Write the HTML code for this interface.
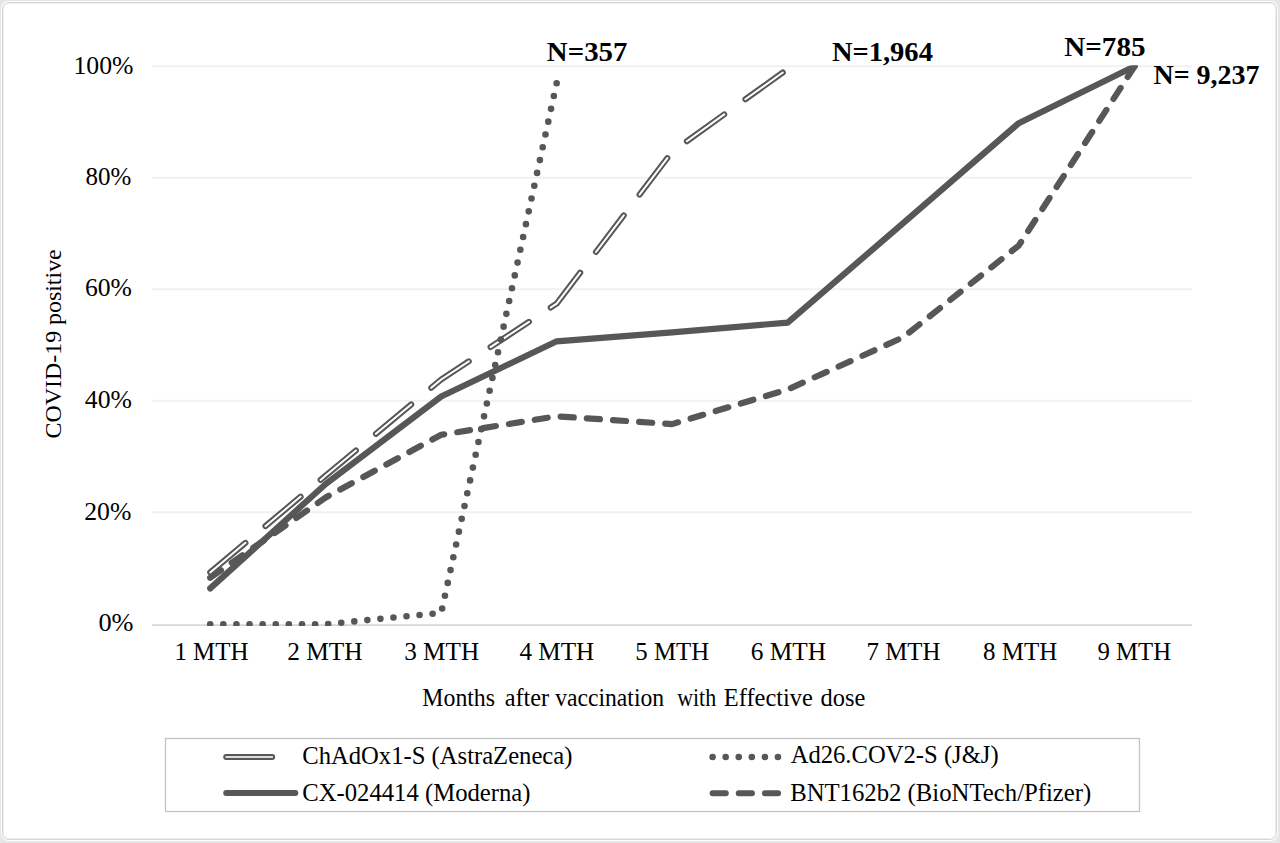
<!DOCTYPE html>
<html><head><meta charset="utf-8"><title>COVID-19 positive by months after vaccination</title>
<style>html,body{margin:0;padding:0;background:#fff;overflow:hidden}svg{display:block}</style>
</head><body>
<svg width="1280" height="843" viewBox="0 0 1280 843" font-family="Liberation Serif, Times New Roman, serif">
<defs><clipPath id="pa"><rect x="150" y="65.6" width="1045" height="560.4"/></clipPath></defs>
<rect x="0" y="0" width="1280" height="843" fill="#e6e6e6"/>
<rect x="1" y="1" width="1277" height="840" rx="7.5" fill="#ffffff"/>
<rect x="2.5" y="2.5" width="1274" height="837" rx="6" fill="none" stroke="#d6d6d6" stroke-width="1"/>
<rect x="3.5" y="3.5" width="1272" height="835" rx="5" fill="none" stroke="#ececec" stroke-width="1"/>
<line x1="152" y1="66.30" x2="1192" y2="66.30" stroke="#f1f1f1" stroke-width="2"/>
<line x1="152" y1="177.77" x2="1192" y2="177.77" stroke="#f1f1f1" stroke-width="2"/>
<line x1="152" y1="289.25" x2="1192" y2="289.25" stroke="#f1f1f1" stroke-width="2"/>
<line x1="152" y1="400.72" x2="1192" y2="400.72" stroke="#f1f1f1" stroke-width="2"/>
<line x1="152" y1="512.20" x2="1192" y2="512.20" stroke="#f1f1f1" stroke-width="2"/>
<line x1="152" y1="625.2" x2="1192" y2="625.2" stroke="#d6d6d6" stroke-width="1.7"/>
<text transform="translate(73.41,73.6) scale(1.0636,1)" font-size="24.2">100%</text>
<text transform="translate(85.57,184.8) scale(1.0329,1)" font-size="24.2">80%</text>
<text transform="translate(84.94,295.9) scale(1.0588,1)" font-size="24.2">60%</text>
<text transform="translate(84.87,407.5) scale(1.0628,1)" font-size="24.2">40%</text>
<text transform="translate(84.24,519.6) scale(1.0635,1)" font-size="24.2">20%</text>
<text transform="translate(98.41,630.5) scale(1.0885,1)" font-size="24.2">0%</text>
<text transform="translate(174.38,660) scale(1.0290,1)" font-size="24.2">1 MTH</text>
<text transform="translate(287.15,660) scale(1.0505,1)" font-size="24.2">2 MTH</text>
<text transform="translate(404.20,660) scale(1.0429,1)" font-size="24.2">3 MTH</text>
<text transform="translate(519.38,660) scale(1.0403,1)" font-size="24.2">4 MTH</text>
<text transform="translate(635.26,660) scale(1.0280,1)" font-size="24.2">5 MTH</text>
<text transform="translate(750.75,660) scale(1.0477,1)" font-size="24.2">6 MTH</text>
<text transform="translate(866.56,660) scale(1.0280,1)" font-size="24.2">7 MTH</text>
<text transform="translate(982.97,660) scale(1.0320,1)" font-size="24.2">8 MTH</text>
<text transform="translate(1097.43,660) scale(1.0241,1)" font-size="24.2">9 MTH</text>
<text transform="translate(546.87,60.5) scale(1.0573,1)" font-size="27.3" font-weight="bold">N=357</text>
<text transform="translate(831.88,60.5) scale(1.0454,1)" font-size="27.3" font-weight="bold">N=1,964</text>
<text transform="translate(1064.27,55.5) scale(1.0662,1)" font-size="27.3" font-weight="bold">N=785</text>
<text transform="translate(1153.49,83.6) scale(1.0249,1)" font-size="27.3" font-weight="bold">N= 9,237</text>
<text transform="translate(302.20,763.8) scale(1.0021,1)" font-size="24.6">ChAdOx1-S (AstraZeneca)</text>
<text transform="translate(302.20,801.2) scale(1.0042,1)" font-size="24.6">CX-024414 (Moderna)</text>
<text transform="translate(790.65,763.4) scale(1.0012,1)" font-size="24.6">Ad26.COV2-S (J&amp;J)</text>
<text transform="translate(790.15,800.9) scale(1.0059,1)" font-size="24.6">BNT162b2 (BioNTech/Pfizer)</text>
<text transform="translate(422.37,705.9) scale(0.9706,1)" font-size="24.5">Months</text>
<text transform="translate(504.66,705.9) scale(0.9932,1)" font-size="24.5">after</text>
<text transform="translate(555.20,705.9) scale(0.9653,1)" font-size="24.5">vaccination</text>
<text transform="translate(677.20,705.9) scale(0.8948,1)" font-size="24.5">with</text>
<text transform="translate(723.75,705.9) scale(0.9983,1)" font-size="24.5">Effective</text>
<text transform="translate(820.60,705.9) scale(0.9977,1)" font-size="24.5">dose</text>
<text transform="translate(60.9,438.4) rotate(-90) scale(1.017,1)" font-size="23.5">COVID-19 positive</text>
<g clip-path="url(#pa)" fill="none" stroke-linecap="round" stroke-linejoin="round">
<polyline points="210.2,572.4 325.7,475.6 441.2,379.5 556.7,303.6 672.2,151.7 787.7,69.0" stroke="#575757" stroke-width="6" stroke-dasharray="46 26"/>
<polyline points="210.2,572.4 325.7,475.6 441.2,379.5 556.7,303.6 672.2,151.7 787.7,69.0" stroke="#ffffff" stroke-width="2" stroke-dasharray="46 26"/>
<polyline points="210.2,624.2 325.7,624.2 441.2,612.9 556.7,83.0" stroke="#575757" stroke-width="6.6" stroke-dasharray="0 13.113"/>
<polyline points="210.2,588.4 325.7,484.0 441.2,396.5 556.7,341.3 672.2,332.3 787.7,322.6 903.2,223.1 1018.7,123.2 1134.6,66.3" stroke="#575757" stroke-width="6.2"/>
<polyline points="210.2,577.7 325.7,497.5 441.2,434.8 556.7,416.3 672.2,424.1 787.7,389.5 903.2,337.3 1018.7,245.6 1134.6,66.3" stroke="#575757" stroke-width="6.2" stroke-dasharray="13.1 13.1"/>
</g>
<rect x="165.5" y="738.5" width="974" height="73" fill="none" stroke="#c4c4c4" stroke-width="1.3"/>
<g fill="none" stroke-linecap="round">
<line x1="226.2" y1="757" x2="295.3" y2="757" stroke="#575757" stroke-width="6" stroke-dasharray="46 26"/>
<line x1="226.2" y1="757" x2="295.3" y2="757" stroke="#dddddd" stroke-width="2" stroke-dasharray="46 26"/>
<line x1="226.2" y1="792.9" x2="295.3" y2="792.9" stroke="#575757" stroke-width="6"/>
<line x1="712.6" y1="757" x2="781.7" y2="757" stroke="#575757" stroke-width="6.6" stroke-dasharray="0 13.07"/>
<line x1="712.6" y1="793.2" x2="781.7" y2="793.2" stroke="#575757" stroke-width="6" stroke-dasharray="13.2 12.95"/>
</g>
</svg>
</body></html>
